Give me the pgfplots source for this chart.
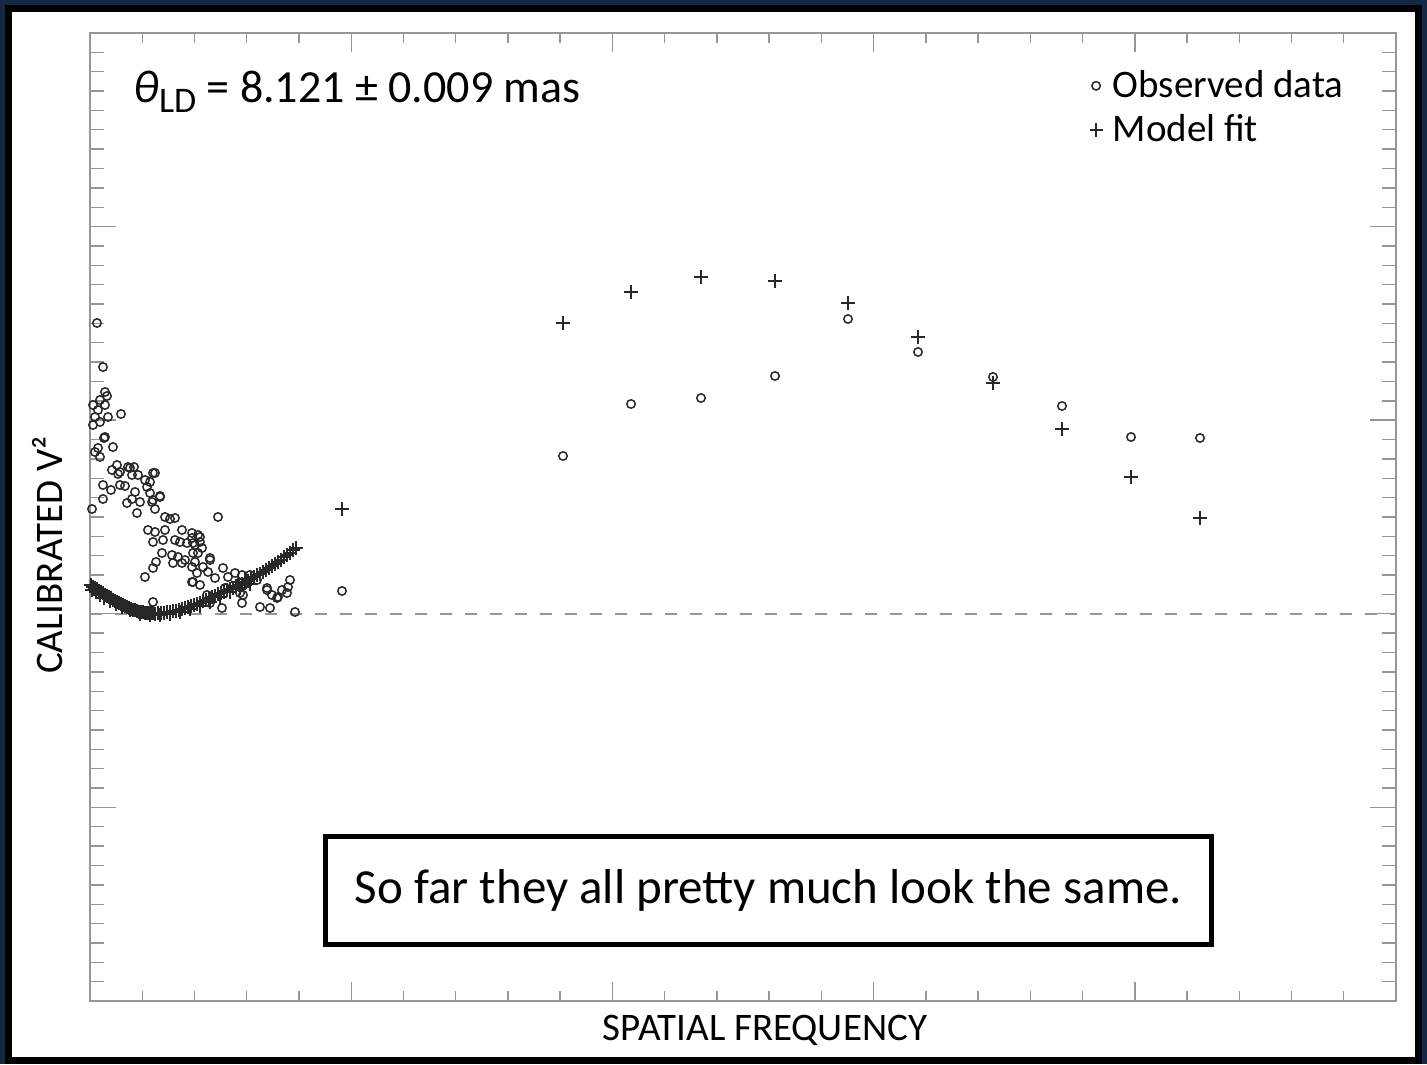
\documentclass[border=0pt]{standalone}
\usepackage{fontspec}
\setmainfont{Carlito}
\usepackage{pgfplots}
\pgfplotsset{compat=1.18}
\definecolor{navy}{RGB}{18,40,70}
\definecolor{axgray}{RGB}{150,150,150}
\definecolor{markgray}{RGB}{40,40,40}
\pgfplotsset{
  markonly/.style={legend image code/.code={\draw[##1] plot coordinates {(0pt,0pt)};}},
  common/.style={
    at={(45pt,31.5pt)}, anchor=south west,
    scale only axis, width=653pt, height=484pt,
    xmin=0, xmax=1306, ymin=-387, ymax=581,
    axis line style={axgray, line width=0.75pt},
    tick style={axgray, line width=0.7pt},
    xticklabels={}, yticklabels={},
  }
}
\begin{document}
\begin{tikzpicture}
\useasboundingbox (0,0) rectangle (713.5pt,532pt);
\fill[navy] (0,0) rectangle (713.5pt,532pt);
\draw[line width=3.5pt, fill=white] (4pt,1.75pt) rectangle (709.25pt,527.75pt);
% y ticks (longer)
\begin{axis}[common, xtick=\empty,
  ytick={-387,-193.4,0.2,193.8,387.4,581}, minor y tick num=9,
  major tick length=13pt, minor tick length=7pt]
\addplot[draw=none, forget plot] coordinates {(0,0)};
\end{axis}
\begin{axis}[common,
  xtick={0,261.2,522.4,783.6,1044.8,1306}, minor x tick num=4,
  ytick=\empty,
  major tick length=9.5pt, minor tick length=5pt,
  xlabel={SPATIAL FREQUENCY},
  ylabel={CALIBRATED V²},
  xlabel style={at={(axis description cs:0.5168,-0.0413)}, anchor=base, font=\fontsize{19.5}{22}\selectfont},
  ylabel style={at={(axis description cs:-0.0207,0.4607)}, anchor=base, font=\fontsize{19.5}{22}\selectfont},
  legend cell align=left,
  legend style={at={(0.765,0.9655)}, anchor=north west, draw=none, fill=none,
    inner xsep=0pt, inner ysep=0pt, row sep=3pt,
    font=\fontsize{19.5}{22}\selectfont,
    /tikz/every odd column/.style={column sep=3pt}},
]
\addplot[axgray, line width=1pt, dash pattern=on 6pt off 6.5pt, forget plot] coordinates {(0,0) (1306,0)};
\addplot[only marks, mark=o, mark size=2.1pt, markgray, mark options={line width=0.75pt}, markonly] coordinates {
(7,291) (13,247) (15,222) (17,218) (10,214) (3,209) (15,209) (8,204) (18,197) (5,197)
(31,200) (10,192) (3,189) (15,177) (14,176) (23,167) (8,166) (5,162) (10,157)
(27,149) (38,147) (44,147) (22,144) (28,140) (42,139) (48,139) (63,141) (55,134)
(13,129) (21,124) (30,129) (35,128) (57,127) (45,122) (60,121) (70,118) (13,115)
(42,115) (37,111) (50,112) (62,112) (65,105) (47,101) (2,105) (75,97) (80,95) (85,96)
(58,84) (65,82) (75,84) (92,84) (63,72) (73,74) (85,74) (90,72) (97,71) (102,81)
(72,61) (82,59) (88,57) (95,54) (83,51) (92,51) (66,52) (63,46) (102,47) (55,37)
(102,32) (63,12)
(30,142) (40,146) (60,132) (65,141) (63,114) (70,117) (117,19) (150,21) (187,16) (177,24)
(120,56) (108,61) (103,71) (110,77)
(128,97) (108,79) (102,76) (110,72) (105,69) (112,66) (103,61) (120,54) (105,52)
(113,47) (133,46) (107,41) (118,42) (125,36) (138,37) (145,41) (152,39) (160,39)
(103,32) (110,29) (135,26) (153,29) (167,34) (177,26) (192,24) (200,34) (182,19)
(188,17) (197,21) (198,27) (170,7) (180,6) (205,2) (152,11) (120,11) (153,19) (132,6)
(252,23) (473,158) (541,210) (611,216) (685,238) (758,295) (828,262) (903,237)
(972,208) (1041,177) (1110,176)
};
\addlegendentry{Observed data}
\addplot[only marks, mark=+, mark size=3.3pt, markgray, mark options={line width=0.75pt}, markonly] coordinates {
(1,29) (3,27) (5,26) (7,25) (9,23) (11,22) (13,21) (15,19) (17,18) (19,17) (21,16)
(23,14) (25,13) (27,12) (29,11) (31,10) (33,9) (35,8) (37,7) (39,6) (41,5) (43,4)
(45,4) (47,3) (49,2) (51,2) (53,2) (55,1) (57,1) (59,1) (61,1) (63,1) (65,0) (68,1)
(71,1) (74,1) (77,2) (80,2) (83,3) (86,3) (89,4) (92,5) (95,6) (98,7) (101,8) (104,9)
(107,10) (110,11) (113,13) (116,14) (119,15) (122,17) (125,18) (128,20) (131,21)
(134,22) (137,24) (140,25) (143,26) (146,28) (149,29) (152,30) (155,31) (158,33)
(161,35) (164,37) (167,39) (170,40) (173,42) (176,44) (179,46) (182,48) (185,50)
(188,52) (191,54) (194,57) (197,59) (200,61) (203,64) (206,66)
(2,24) (6,22) (10,19) (14,16) (20,13) (26,10) (32,7) (40,4) (50,0) (60,-1) (70,-1)
(80,0) (90,2) (100,5) (110,8) (120,12) (130,17) (140,22) (148,32) (150,26) (155,35)
(160,30)
(252,105) (473,291) (541,322) (611,337) (685,333) (758,311) (828,277) (903,231)
(972,185) (1041,137) (1110,96)
};
\addlegendentry{Model fit}
\node[anchor=base west, font=\fontsize{23}{24}\selectfont, inner sep=0pt]
  at (rel axis cs:0.0329,0.9277)
  {{\itshape θ}\raisebox{-5pt}{\fontsize{18}{18}\selectfont LD} = 8.121 ± 0.009 mas};
\end{axis}
\node[draw=black, line width=2.2pt, fill=white, minimum width=443pt, minimum height=54pt,
  inner sep=0pt, font=\fontsize{24.5}{26}\selectfont]
  at (384.25pt,86.75pt) {So far they all pretty much look the same.};
\end{tikzpicture}
\end{document}
